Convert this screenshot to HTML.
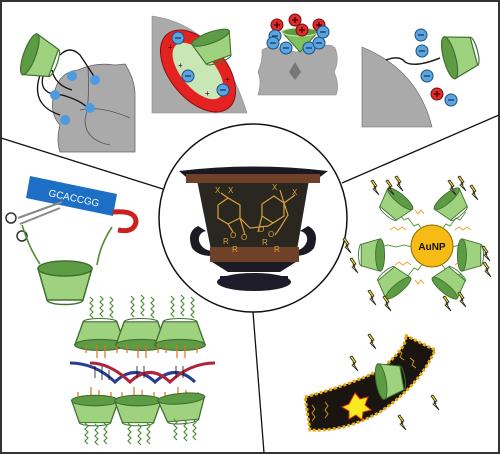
<!DOCTYPE html>
<html><head><meta charset="utf-8"><style>
html,body{margin:0;padding:0;background:#fff}
svg{display:block}
text{font-family:"Liberation Sans",sans-serif}
</style></head><body>
<svg width="500" height="454" viewBox="0 0 500 454">
<defs>
<g id="cup">
<path d="M-18,-9 L18,-9 L12,12 L-12,12 Z" fill="#9fd27f" stroke="#3f7030" stroke-width="1"/>
<ellipse cx="0" cy="-9" rx="18" ry="5" fill="#5d9c45" stroke="#3f7030" stroke-width="1"/>
<path d="M-12,12 A12,3 0 0 0 12,12" fill="none" stroke="#3f7030" stroke-width="1"/>
</g>
<path id="sq" d="M0,0 l3,3 l-3,3 l3,3 l-3,3 l3,3 l-3,3 l3,3" fill="none" stroke="#4f8f3a" stroke-width="1.2"/>
<path id="bolt" d="M0,0 l4,6 l-3,1 l5,8 l-6,-6 l3,-1 l-5,-7 z" fill="#f5e020" stroke="#222" stroke-width="0.8"/>
<g id="neg"><circle r="6" fill="#5aa4e0" stroke="#1b4f80" stroke-width="1"/><rect x="-3" y="-0.6" width="6" height="1.2" fill="#1b2f50"/></g>
<g id="pos"><circle r="6" fill="#e02a2a" stroke="#701010" stroke-width="1"/><rect x="-3" y="-0.6" width="6" height="1.2" fill="#300"/><rect x="-0.6" y="-3" width="1.2" height="6" fill="#300"/></g>
</defs>
<rect x="1" y="1" width="498" height="452" fill="#fff" stroke="#333" stroke-width="2"/>

<g stroke="#111" stroke-width="1.3">
<line x1="1" y1="138" x2="163" y2="189"/>
<line x1="499" y1="115" x2="342" y2="183"/>
<line x1="253" y1="312" x2="264" y2="453"/>
</g>

<!-- panel 1: multivalent -->
<g>
<path d="M55,90 Q60,72 78,70 Q95,62 115,65 L125,64 Q135,80 135,95 L135,152 L60,152 Q56,140 60,125 Q48,112 55,90 Z" fill="#aaa" stroke="#666" stroke-width="0.8"/>
<path d="M88,67 Q90,100 85,120 M80,110 Q100,105 130,118 M85,120 Q85,140 110,145" fill="none" stroke="#555" stroke-width="0.8"/>
<path d="M60,55 Q70,45 80,55 Q90,70 95,78 M52,70 Q55,85 72,90 M45,70 Q35,95 62,95 Q80,100 88,108 M40,75 Q30,105 60,115" fill="none" stroke="#111" stroke-width="1.3"/>
<use href="#cup" transform="translate(40,58) rotate(-70) scale(1.2)"/>
<g fill="#4d9ae0"><circle cx="72" cy="76" r="5"/><circle cx="95" cy="80" r="5"/><circle cx="55" cy="95" r="5"/><circle cx="90" cy="108" r="5"/><circle cx="65" cy="120" r="5"/></g>
</g>

<!-- panel 2: ring -->
<g>
<path d="M152,16 Q220,25 247,113 L152,113 Z" fill="#aaa" stroke="#888" stroke-width="0.6"/>
<ellipse cx="198" cy="71" rx="28" ry="48" transform="rotate(-40 198 71)" fill="#e52222" stroke="#8a1010"/>
<ellipse cx="198" cy="71" rx="17" ry="34" transform="rotate(-40 198 71)" fill="#c9e7b4"/>
<use href="#cup" transform="translate(214,47) rotate(-20) scale(1.1)"/>
<use href="#neg" transform="translate(178,38)"/><use href="#neg" transform="translate(188,76)"/><use href="#neg" transform="translate(223,90)"/>
<g fill="#300" font-size="8"><text x="168" y="50">+</text><text x="178" y="68">+</text><text x="205" y="96">+</text><text x="225" y="82">+</text></g>
</g>

<!-- panel 3: channel -->
<g>
<path d="M262,50 Q270,45 280,48 L296,52 L318,48 Q330,42 335,48 Q340,60 334,72 Q340,85 336,95 L258,95 Q262,82 258,72 Q263,60 262,50 Z" fill="#aaa" stroke="#888" stroke-width="0.6"/>
<path d="M295,62 L301,72 L295,80 L289,72 Z" fill="#777"/>
<path d="M282,32 L318,32 L300,52 Z" fill="#7dc25a" stroke="#3f7030"/>
<ellipse cx="300" cy="32" rx="18" ry="4" fill="#5d9c45" stroke="#cfeaba"/>
<use href="#pos" transform="translate(277,25)"/><use href="#pos" transform="translate(295,20)"/><use href="#pos" transform="translate(302,30)"/><use href="#pos" transform="translate(319,25)"/>
<use href="#neg" transform="translate(275,36)"/><use href="#neg" transform="translate(273,43)"/><use href="#neg" transform="translate(286,48)"/><use href="#neg" transform="translate(309,48)"/><use href="#neg" transform="translate(319,43)"/><use href="#neg" transform="translate(323,32)"/>
</g>

<!-- panel 4: surface -->
<g>
<path d="M362,47 Q418,70 432,127 L362,127 Z" fill="#aaa" stroke="#666" stroke-width="0.6"/>
<path d="M386,60 Q400,55 405,62 Q415,68 440,58" fill="none" stroke="#222" stroke-width="1.5"/>
<use href="#cup" transform="translate(460,55) rotate(-105) scale(1.2)"/>
<use href="#neg" transform="translate(421,35)"/><use href="#neg" transform="translate(422,51)"/><use href="#neg" transform="translate(427,76)"/><use href="#neg" transform="translate(451,100)"/><use href="#pos" transform="translate(437,94)"/>
</g>

<!-- central circle and vase -->
<g>
<circle cx="253" cy="218" r="94" fill="#fff" stroke="#111" stroke-width="1.5"/>
<path d="M198,226 Q186,232 192,248 Q198,256 212,256 L212,251 Q202,250 199,241 Q198,233 206,231 Z" fill="#1c1a22"/>
<path d="M308,226 Q320,232 314,248 Q308,256 294,256 L294,251 Q304,250 307,241 Q308,233 300,231 Z" fill="#1c1a22"/>
<path d="M197,180 L309,180 L297,250 L211,250 Z" fill="#2a2620"/>
<path d="M179,171 Q253,162 328,171 L320,177 Q253,172 186,177 Z" fill="#1a1820"/>
<rect x="186" y="174" width="134" height="9" fill="#6e4128"/>
<path d="M210,247 L299,247 L299,262 L210,262 Z" fill="#6e4128"/>
<path d="M212,262 L296,262 L280,272 L228,272 Z" fill="#1c1a22"/>
<ellipse cx="254" cy="282" rx="37" ry="9" fill="#1e1c2a"/>
<rect x="220" y="276" width="68" height="6" fill="#1e1c2a"/>
<g fill="none" stroke="#d6a13a" stroke-width="1.2">
<path d="M218,205 L228,198 L240,205 L240,218 L228,224 L218,218 Z"/>
<path d="M262,204 L274,196 L284,203 L284,216 L273,223 L262,216 Z"/>
<path d="M221,193 L228,198 M280,190 L284,203 M295,195 L284,203 L288,215 L280,228 M240,218 L250,228 L268,226 L273,223 M228,224 L233,232 M240,218 L245,235 M262,216 L258,232 M280,228 L275,235"/>
</g>
<g fill="#d6a13a" font-size="8"><text x="215" y="193">X</text><text x="228" y="193">X</text><text x="272" y="190">X</text><text x="292" y="195">X</text><text x="230" y="238">O</text><text x="241" y="240">O</text><text x="258" y="232">O</text><text x="268" y="237">O</text><text x="223" y="244">R</text><text x="232" y="252">R</text><text x="262" y="245">R</text><text x="274" y="252">R</text></g>
</g>

<!-- left: DNA tag basket -->
<g>
<path d="M30,176 L117,194 L113,216 L26,198 Z" fill="#1c6fc4"/>
<text x="48" y="196" fill="#fff" font-size="10" transform="rotate(12 48 196)">GCACCGG</text>
<path d="M113,212 Q136,210 136,222 Q134,233 118,230" fill="none" stroke="#cc2020" stroke-width="5"/>
<path d="M18,218 L62,202 M20,224 L60,208" stroke="#888" stroke-width="2"/>
<circle cx="11" cy="218" r="5" fill="none" stroke="#333" stroke-width="1.5"/><circle cx="22" cy="236" r="5" fill="none" stroke="#333" stroke-width="1.5"/>
<path d="M22,225 Q30,250 40,264 M112,227 Q100,245 97,265" fill="none" stroke="#4e8f30" stroke-width="1.6"/>
<use href="#cup" transform="translate(65,282) scale(1.5)"/>
</g>

<!-- bottom-left: DNA with cups -->
<g>
<use href="#cup" transform="translate(100,335) scale(1.4,-1.1)"/>
<use href="#cup" transform="translate(141,335) scale(1.4,-1.1)"/>
<use href="#cup" transform="translate(180,335) scale(1.4,-1.1)"/>
<g>
<use href="#sq" x="90" y="297"/><use href="#sq" x="100" y="296"/><use href="#sq" x="110" y="297"/>
<use href="#sq" x="131" y="296"/><use href="#sq" x="141" y="295"/><use href="#sq" x="151" y="297"/>
<use href="#sq" x="171" y="296"/><use href="#sq" x="181" y="295"/><use href="#sq" x="191" y="297"/>
</g>
<g stroke="#e07020" stroke-width="1.2">
<path d="M86,345 v8 M97,345 v13 M105,345 v13 M117,345 v8 M127,345 v8 M138,345 v13 M146,345 v13 M158,345 v8 M166,345 v8 M177,345 v13 M185,345 v13 M197,345 v8"/>
<path d="M78,400 v-8 M91,400 v-13 M99,400 v-10 M111,400 v-8 M122,400 v-8 M134,400 v-13 M142,400 v-10 M154,400 v-8 M165,400 v-8 M178,400 v-13 M186,400 v-10 M198,400 v-8"/>
</g>
<path d="M70,363 Q95,363 115,382 Q135,363 155,382 Q175,363 195,382" fill="none" stroke="#253d93" stroke-width="3"/>
<path d="M90,363 Q110,363 130,382 Q150,363 170,382 Q190,363 215,363" fill="none" stroke="#b0243a" stroke-width="3"/>
<g stroke="#111" stroke-width="0.8"><path d="M95,366 v12 M102,366 v14 M109,370 v10 M137,366 v12 M144,366 v12 M176,366 v12 M183,366 v12"/></g>
<use href="#cup" transform="translate(95,410) scale(1.3,1.05)"/>
<use href="#cup" transform="translate(138,410) scale(1.3,1.05)"/>
<use href="#cup" transform="translate(182,408) rotate(-5) scale(1.3,1.05)"/>
<g>
<use href="#sq" x="85" y="423"/><use href="#sq" x="95" y="424"/><use href="#sq" x="104" y="423"/>
<use href="#sq" x="128" y="423"/><use href="#sq" x="138" y="424"/><use href="#sq" x="147" y="423"/>
<use href="#sq" x="174" y="419"/><use href="#sq" x="184" y="420"/><use href="#sq" x="193" y="419"/>
</g>
</g>

<!-- right: AuNP -->
<g>
<g stroke="#f0a030" stroke-width="1" fill="none">
<path d="M390,230 l4,-3 l4,3 l4,-3 l4,3 M455,230 l4,-3 l4,3 l4,-3 l4,3 M395,265 l4,-3 l4,3 l4,-3 l4,3 M455,265 l4,-3 l4,3 l4,-3 l4,3 M415,210 l3,4 l3,-4 l3,4 M445,285 l3,4 l3,-4 l3,4 M415,280 l3,4 l3,-4 l3,4 M445,205 l3,4 l3,-4 l3,4"/>
</g>
<g stroke="#5aa040" stroke-width="1" fill="none">
<path d="M398,212 l6,8 l4,-2 l6,8 l4,-2 l6,8 M466,212 l-6,8 l-4,-2 l-6,8 l-4,-2 l-6,8 M380,247 l8,-2 l8,2 l8,-2 l8,2 M484,247 l-8,-2 l-8,2 l-8,-2 l-8,2 M398,282 l6,-8 l4,2 l6,-8 l4,2 l6,-8 M466,282 l-6,-8 l-4,2 l-6,-8 l-4,2 l-6,-8"/>
</g>
<circle cx="432" cy="246" r="21" fill="#f7bb16" stroke="#8a6a00" stroke-width="1"/>
<text x="432" y="250" text-anchor="middle" font-size="10" font-weight="bold" fill="#111">AuNP</text>
<use href="#cup" transform="translate(395,205) rotate(40) scale(0.9)"/>
<use href="#cup" transform="translate(452,205) rotate(-40) scale(0.9)"/>
<use href="#cup" transform="translate(372,255) rotate(90) scale(0.9)"/>
<use href="#cup" transform="translate(470,255) rotate(-90) scale(0.9)"/>
<use href="#cup" transform="translate(393,282) rotate(140) scale(0.9)"/>
<use href="#cup" transform="translate(450,282) rotate(-140) scale(0.9)"/>
<use href="#bolt" x="373" y="180"/><use href="#bolt" x="388" y="180"/><use href="#bolt" x="397" y="176"/>
<use href="#bolt" x="450" y="180"/><use href="#bolt" x="460" y="176"/><use href="#bolt" x="472" y="185"/>
<use href="#bolt" x="345" y="238"/><use href="#bolt" x="352" y="258"/><use href="#bolt" x="484" y="246"/><use href="#bolt" x="485" y="262"/>
<use href="#bolt" x="370" y="290"/><use href="#bolt" x="385" y="296"/><use href="#bolt" x="445" y="296"/><use href="#bolt" x="460" y="292"/>
</g>

<!-- bottom-right: membrane -->
<g>
<path d="M305,397 Q350,385 380,370 Q410,345 405,335 L435,350 Q420,385 380,412 Q345,432 310,430 Z" fill="#1a1510" stroke="#e8a810" stroke-width="3" stroke-dasharray="3,2"/>
<g stroke="#e8a810" stroke-width="0.8" fill="none"><path d="M312,405 l3,4 l-3,4 l3,4 l-3,4 M325,402 l3,4 l-3,4 l3,4 l-3,4 M390,375 l4,3 l-2,4 l4,3 M410,358 l4,3 l-2,4 l4,3 M398,350 l4,3 l-2,4 l4,3"/></g>
<path d="M355,393 l5,6 l8,-2 l-3,8 l6,5 l-8,2 l-1,8 l-6,-5 l-7,4 l0,-8 l-7,-4 l7,-3 z" fill="#f7ea20" stroke="#e03010" stroke-width="1"/>
<use href="#cup" transform="translate(390,380) rotate(-100) scale(1)"/>
<use href="#bolt" x="370" y="334"/><use href="#bolt" x="352" y="356"/><use href="#bolt" x="433" y="395"/><use href="#bolt" x="400" y="415"/>
</g>
</svg>
</body></html>
